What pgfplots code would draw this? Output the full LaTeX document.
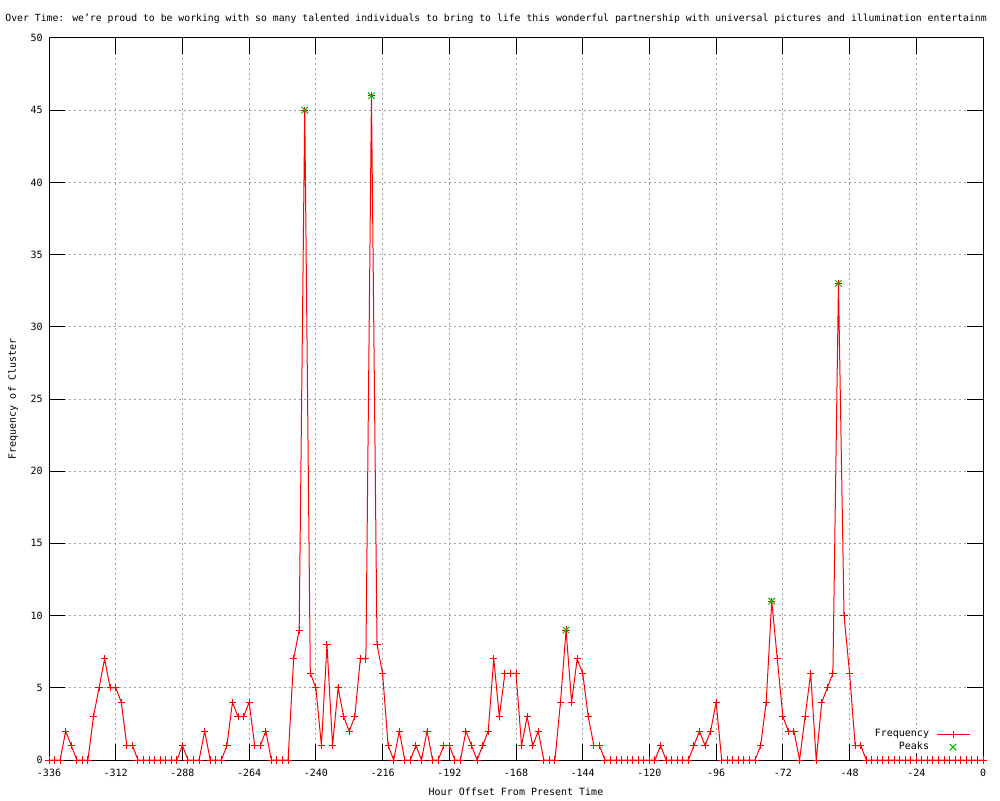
\documentclass[border=0pt]{standalone}
\usepackage{pgfplots}
\usepackage{pgfplotstable}
\pgfplotsset{compat=1.18}
\usepackage{fontspec}
\setmainfont{DejaVu Sans Mono}
\definecolor{gridgray}{RGB}{160,160,160}
\definecolor{peakgreen}{RGB}{0,192,0}

\pgfplotsset{
  freqlegend/.style={legend image code/.code={\draw[mark repeat=2,mark phase=2,##1] plot coordinates {(0pt,0pt) (8.25pt,0pt) (16.5pt,0pt)};}},
  peaklegend/.style={legend image code/.code={\draw[mark repeat=2,mark phase=2,##1] plot coordinates {(0pt,0pt) (8.25pt,0pt) (16.5pt,0pt)};}},
}

\pgfplotstableread{
x y
-336 0
-334 0
-332 0
-330 2
-328 1
-326 0
-324 0
-322 0
-320 3
-318 5
-316 7
-314 5
-312 5
-310 4
-308 1
-306 1
-304 0
-302 0
-300 0
-298 0
-296 0
-294 0
-292 0
-290 0
-288 1
-286 0
-284 0
-282 0
-280 2
-278 0
-276 0
-274 0
-272 1
-270 4
-268 3
-266 3
-264 4
-262 1
-260 1
-258 2
-256 0
-254 0
-252 0
-250 0
-248 7
-246 9
-244 45
-242 6
-240 5
-238 1
-236 8
-234 1
-232 5
-230 3
-228 2
-226 3
-224 7
-222 7
-220 46
-218 8
-216 6
-214 1
-212 0
-210 2
-208 0
-206 0
-204 1
-202 0
-200 2
-198 0
-196 0
-194 1
-192 1
-190 0
-188 0
-186 2
-184 1
-182 0
-180 1
-178 2
-176 7
-174 3
-172 6
-170 6
-168 6
-166 1
-164 3
-162 1
-160 2
-158 0
-156 0
-154 0
-152 4
-150 9
-148 4
-146 7
-144 6
-142 3
-140 1
-138 1
-136 0
-134 0
-132 0
-130 0
-128 0
-126 0
-124 0
-122 0
-120 0
-118 0
-116 1
-114 0
-112 0
-110 0
-108 0
-106 0
-104 1
-102 2
-100 1
-98 2
-96 4
-94 0
-92 0
-90 0
-88 0
-86 0
-84 0
-82 0
-80 1
-78 4
-76 11
-74 7
-72 3
-70 2
-68 2
-66 0
-64 3
-62 6
-60 0
-58 4
-56 5
-54 6
-52 33
-50 10
-48 6
-46 1
-44 1
-42 0
-40 0
-38 0
-36 0
-34 0
-32 0
-30 0
-28 0
-26 0
-24 0
-22 0
-20 0
-18 0
-16 0
-14 0
-12 0
-10 0
-8 0
-6 0
-4 0
-2 0
0 0
}\freqdata

\pgfplotstableread{
x y
-244 45
-220 46
-150 9
-76 11
-52 33
}\peakdata

\begin{document}
\begin{tikzpicture}[font=\fontsize{5pt}{6pt}\selectfont]
\path[use as bounding box] (0,0) rectangle (500pt,400pt);
\node[anchor=base west, inner sep=0pt, font=\fontsize{4.9pt}{6pt}\selectfont] at (2.5pt,389pt) {Over Time: we're proud to be working with so many talented individuals to bring to life this wonderful partnership with universal pictures and illumination entertainm};
\begin{axis}[
  at={(24.5pt,20pt)}, anchor=south west,
  scale only axis, width=467pt, height=361pt,
  xmin=-336, xmax=0, ymin=0, ymax=50,
  xtick={-336,-312,-288,-264,-240,-216,-192,-168,-144,-120,-96,-72,-48,-24,0},
  xticklabels={-336,-312,-288,-264,-240,-216,-192,-168,-144,-120,-96,-72,-48,-24,0},
  ytick={0,5,10,15,20,25,30,35,40,45,50},
  yticklabels={0,5,10,15,20,25,30,35,40,45,50},
  major tick length=8pt,
  tick align=inside,
  tick style={black, line width=0.5pt},
  axis line style={black, line width=0.5pt},
  grid=major,
  major grid style={gridgray, line width=0.5pt, dash pattern=on 1pt off 1.5pt},
  xticklabel style={anchor=north, inner sep=0pt, yshift=-4.5pt},
  yticklabel style={anchor=east, inner sep=0pt, xshift=-3pt},
  xlabel={Hour Offset From Present Time},
  ylabel={Frequency of Cluster},
  xlabel style={at={(axis description cs:0.5,-0.0443)}, anchor=center, inner sep=0pt},
  ylabel style={at={(axis description cs:-0.0385,0.5)}, anchor=center, inner sep=0pt},
  legend plot pos=right,
  legend cell align=right,
  legend style={draw=none, fill=white, inner sep=0pt, outer sep=0pt,
    at={(axis description cs:0.9861,0.0102)}, anchor=south east,
    row sep=1pt, column sep=3.5pt,
    nodes={inner sep=0pt, text height=4pt, text depth=1.5pt}},
]
\addplot[red, line width=0.5pt, mark=+, mark size=1.8pt,
  mark options={line width=0.5pt}, freqlegend]
  table[x=x,y=y] {\freqdata};
\addlegendentry{Frequency}
\addplot[peakgreen, only marks, mark=x, mark size=2.3pt,
  mark options={line width=0.5pt}, peaklegend]
  table[x=x,y=y] {\peakdata};
\addlegendentry{Peaks}
\end{axis}
\end{tikzpicture}
\end{document}
